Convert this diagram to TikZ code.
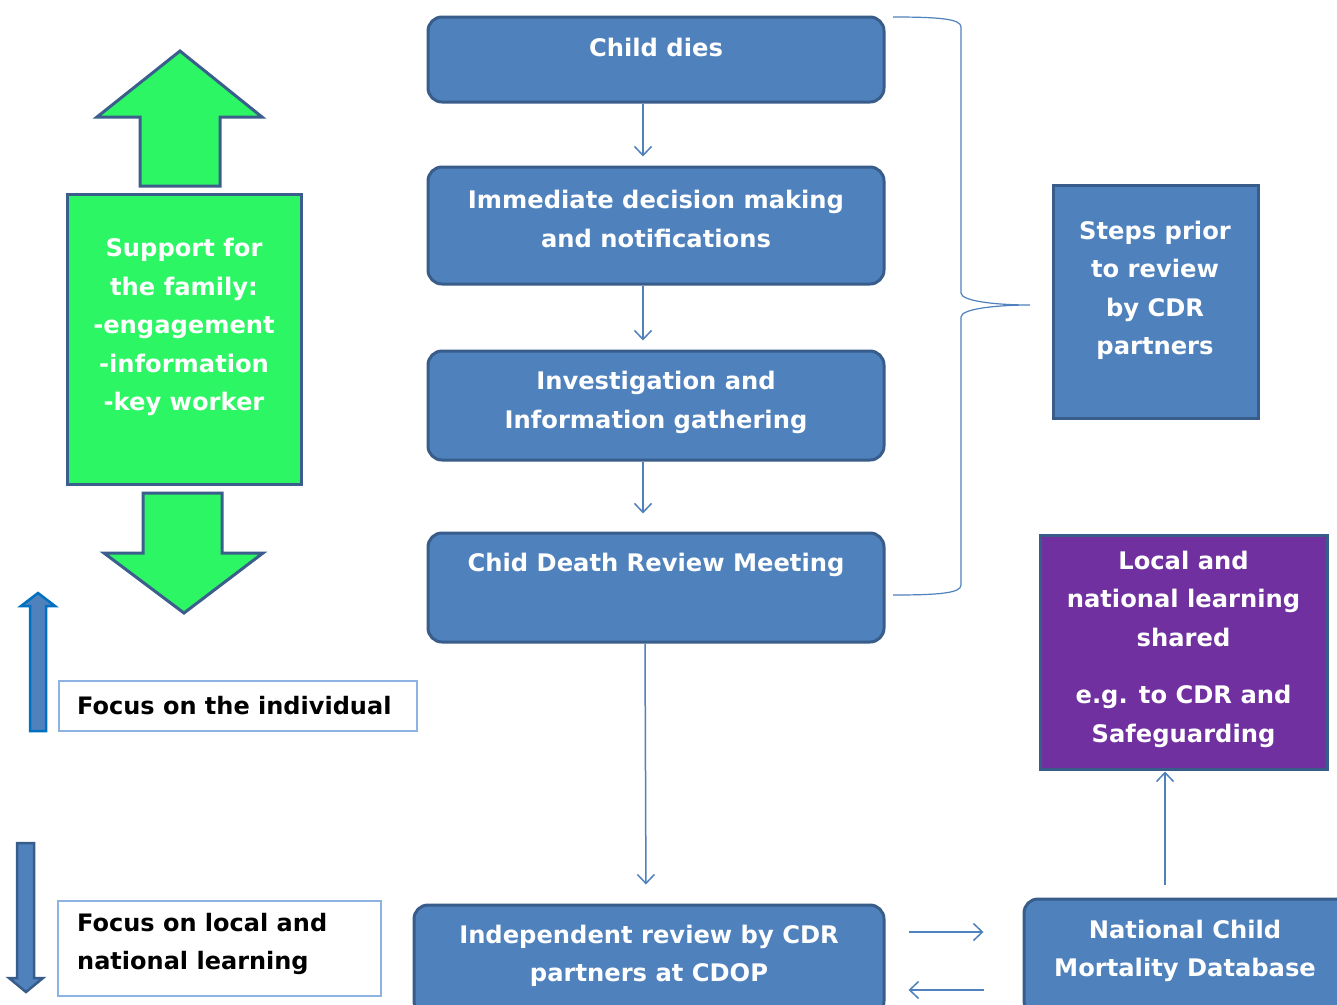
\documentclass[tikz,border=0pt]{standalone}
\usepackage{fontspec}
\setmainfont{DejaVu Sans}
\usetikzlibrary{arrows.meta}
\definecolor{boxblue}{RGB}{79,129,189}
\definecolor{boxedge}{RGB}{56,93,138}
\definecolor{famgreen}{RGB}{44,246,100}
\definecolor{grnedge}{RGB}{59,94,140}
\definecolor{purp}{RGB}{112,48,160}
\definecolor{focusedge}{RGB}{141,179,226}
\definecolor{brightblue}{RGB}{0,112,192}
\begin{document}
\begin{tikzpicture}[x=1pt,y=-1pt,
  bluebox/.style={draw=boxedge, fill=boxblue, line width=3pt, rounded corners=14pt, inner sep=0pt},
  sqbox/.style={draw=boxedge, fill=boxblue, line width=3pt, inner sep=0pt},
  wtxt/.style={text=white, font=\bfseries\fontsize{24.2}{38.5}\selectfont, align=center, inner sep=0pt},
  btxt/.style={text=black, font=\bfseries\fontsize{24}{38.5}\selectfont, align=left, inner sep=0pt, anchor=west},
  focusbox/.style={draw=focusedge, fill=white, line width=1.5pt, inner sep=0pt, anchor=north west},
  conn/.style={draw=boxblue, line width=1.5pt, -{Straight Barb[length=9pt,width=17pt,line width=1.5pt]}},
  bigarrow/.style={line width=3pt, line join=miter}
]
\useasboundingbox (0,0) rectangle (1337,1004);
\clip (0,0) rectangle (1337,1004);
\fill[white] (0,0) rectangle (1337,1004);

% flow boxes
\node[bluebox, minimum width=456pt, minimum height=85pt] (dies) at (656,59.5) {};
\node[wtxt] (tdies) at (656,47) {Child dies};
\node[bluebox, minimum width=456pt, minimum height=117pt] (imm) at (656,225.5) {};
\node[wtxt] (timm) at (656,219) {Immediate decision making\\and notifications};
\node[bluebox, minimum width=456pt, minimum height=109pt] (inv) at (656,405.5) {};
\node[wtxt] (tinv) at (656,402.5) {Investigation and\\Information gathering};
\node[bluebox, minimum width=456pt, minimum height=109pt] (cdr) at (656,587.5) {};
\node[wtxt] (tcdr) at (656,565) {Chid Death Review Meeting};
\node[bluebox, minimum width=470pt, minimum height=110pt] (ind) at (649,960) {};
\node[wtxt] (tind) at (649,956) {Independent review by CDR\\partners at CDOP};
\node[bluebox, minimum width=326pt, minimum height=116pt] (nat) at (1187,957) {};
\node[wtxt] (tnat) at (1185,951) {National Child\\Mortality Database};

% side boxes
\node[sqbox, minimum width=205pt, minimum height=233pt] (steps) at (1155.5,301.5) {};
\node[wtxt] (tsteps) at (1155,290.5) {Steps prior\\to review\\by CDR\\partners};
\node[sqbox, fill=purp, minimum width=287pt, minimum height=234pt] (pur) at (1183.5,652) {};
\node[wtxt] (tpur) at (1183.5,649) {Local and\\national learning\\shared\\[19pt]e.g. to CDR and\\Safeguarding};

% family support
\node[draw=grnedge, fill=famgreen, line width=3pt, minimum width=234pt, minimum height=290pt, inner sep=0pt] (fam) at (184,339) {};
\node[wtxt] (tfam) at (184,327) {Support for\\the family:\\-engagement\\-information\\-key worker};
\draw[bigarrow, draw=grnedge, fill=famgreen] (180,51) -- (262,117) -- (220,117) -- (220,186) -- (140,186) -- (140,117) -- (97,117) -- cycle;
\draw[bigarrow, draw=grnedge, fill=famgreen] (143,493) -- (222,493) -- (222,553) -- (263,553) -- (184,613) -- (104,553) -- (143,553) -- cycle;

% focus arrows
\draw[line width=2.5pt, line join=miter, draw=brightblue, fill=boxblue] (30,731) -- (30,606) -- (21,606) -- (38,593) -- (55,606) -- (46,606) -- (46,731) -- cycle;
\draw[line width=2.5pt, line join=miter, draw=boxedge, fill=boxblue] (17,843) -- (34,843) -- (34,978) -- (43,978) -- (26,992) -- (9,978) -- (17,978) -- cycle;

% focus boxes
\node[focusbox, minimum width=358pt, minimum height=50pt] (f1) at (58,680) {};
\node[btxt] (tf1) at (77,706) {Focus on the individual};
\node[focusbox, minimum width=323pt, minimum height=95pt] (f2) at (57,900) {};
\node[btxt] (tf2) at (77,944) {Focus on local and\\national learning};

% connectors
\draw[conn, shorten >=9pt] ([xshift=-13pt]dies.south) -- ([xshift=-13pt]imm.north);
\draw[conn, shorten >=9pt] ([xshift=-13pt]imm.south) -- ([xshift=-13pt]inv.north);
\draw[conn, shorten >=18pt] ([xshift=-13pt]inv.south) -- ([xshift=-13pt]cdr.north);
\draw[conn, shorten >=19pt] ([xshift=-11pt]cdr.south) -- ([xshift=-3pt]ind.north);
\draw[conn, shorten <=23pt, shorten >=39pt] ([yshift=28pt]ind.east) -- ([yshift=28pt]ind.east -| nat.west);
\draw[conn, shorten <=39pt, shorten >=23pt] ([yshift=-33pt]nat.west) -- ([yshift=-33pt]nat.west -| ind.east);
\draw[conn, shorten <=13pt, shorten >=1pt] ([xshift=-22pt]nat.north) -- ([xshift=-22pt]nat.north |- pur.south);

% bracket
\draw[boxblue, line width=1.2pt] (893,17) .. controls (940,17) and (961,19) .. (961,27) -- (961,293) .. controls (961,301) and (995,305) .. (1030,305) .. controls (995,305) and (961,309) .. (961,317) -- (961,585) .. controls (961,593) and (940,595) .. (893,595);
\end{tikzpicture}
\end{document}
